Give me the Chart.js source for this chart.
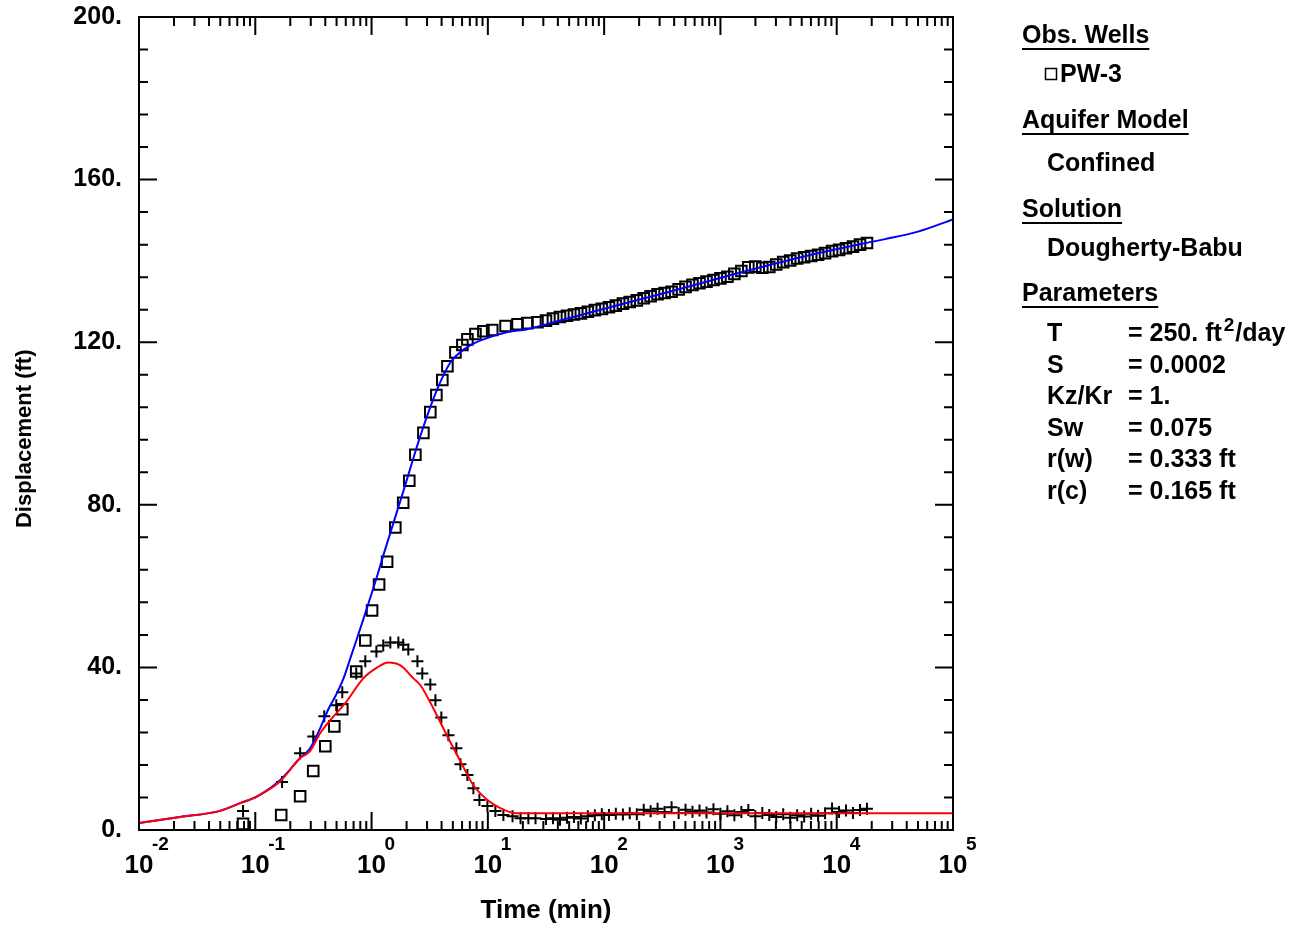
<!DOCTYPE html>
<html>
<head>
<meta charset="utf-8">
<title>PW-3 Dougherty-Babu</title>
<script src="https://cdn.jsdelivr.net/npm/chart.js@4.4.0/dist/chart.umd.min.js"></script>
<style>
  html, body { margin: 0; padding: 0; background: #fff; }
</style>
</head>
<body>
<canvas id="chart" width="1293" height="926"></canvas>
<script>
// observed displacement at PW-3 (squares)
const obsTime = [0.0785, 0.167, 0.243, 0.315, 0.400, 0.478, 0.560, 0.738, 0.883, 1.01,
  1.16, 1.36, 1.60, 1.87, 2.11, 2.38, 2.79, 3.20, 3.61, 4.06,
  4.49, 5.26, 6.04, 6.67, 7.82, 9.16, 10.9, 14.2, 18.0, 21.9,
  26.7, 31.6, 36.3, 41.7, 47.9, 55.0, 63.1, 72.4, 83.2, 95.5,
  110, 126, 145, 166, 191, 219, 251, 288, 331, 380,
  437, 501, 575, 661, 759, 871, 1000, 1148, 1318, 1514,
  1738, 1995, 2291, 2630, 3020, 3467, 3981, 4571, 5248, 6026,
  6918, 7943, 9120, 10470, 12020, 13800, 15850, 18200];
const obsDisp = [1.5, 3.7, 8.3, 14.5, 20.6, 25.5, 29.7, 39.0, 46.6, 54.0,
  60.4, 66.0, 74.4, 80.5, 85.9, 92.3, 97.7, 102.8, 107.0, 110.7,
  114.1, 117.5, 119.3, 120.7, 122.0, 122.7, 123.0, 124.0, 124.4, 124.7,
  124.9, 125.3, 125.8, 126.2, 126.5, 126.8, 127.1, 127.5, 127.9, 128.2,
  128.6, 129.0, 129.5, 129.9, 130.3, 130.8, 131.3, 131.8, 132.1, 132.4,
  133.0, 133.6, 134.1, 134.5, 134.9, 135.3, 135.7, 136.1, 136.8, 137.5,
  138.4, 138.6, 138.3, 138.5, 139.1, 139.7, 140.1, 140.6, 140.9, 141.2,
  141.5, 141.9, 142.4, 142.7, 143.1, 143.5, 144.0, 144.4];

// observed derivative (plus signs)
const derTime = [0.0785, 0.170, 0.243, 0.315, 0.392, 0.497, 0.560, 0.738, 0.883, 1.10,
  1.26, 1.45, 1.70, 1.87, 2.07, 2.48, 2.73, 3.20, 3.54, 3.98,
  4.58, 5.36, 5.81, 6.67, 7.51, 8.46, 9.91, 11.6, 13.6, 16.3,
  19.1, 22.3, 25.7, 31.6, 36.3, 41.7, 47.9, 55.0, 63.1, 72.4,
  83.2, 95.5, 110, 126, 145, 166, 191, 219, 251, 288,
  331, 380, 437, 501, 575, 661, 759, 871, 1000, 1148,
  1318, 1514, 1738, 1995, 2291, 2630, 3020, 3467, 3981, 4571,
  5248, 6026, 6918, 7943, 9120, 10470, 12020, 13800, 15850, 18200];
const derValue = [4.7, 11.8, 18.9, 23.0, 28.0, 30.7, 33.9, 38.5, 41.5, 43.9,
  45.4, 46.1, 46.1, 45.6, 44.4, 41.5, 38.5, 35.8, 31.9, 27.7,
  23.3, 20.1, 16.2, 13.5, 10.3, 7.4, 5.9, 4.7, 3.7, 3.4,
  2.9, 2.9, 2.9, 2.7, 2.9, 2.5, 3.0, 3.2, 2.8, 3.4,
  3.6, 3.9, 3.7, 4.0, 3.8, 4.1, 3.9, 5.0, 4.6, 5.2,
  4.4, 5.6, 4.2, 5.0, 4.5, 4.8, 4.3, 5.1, 4.0, 4.6,
  3.6, 4.4, 4.9, 3.4, 4.2, 3.7, 3.2, 3.9, 3.0, 3.6,
  3.3, 4.0, 3.5, 4.1, 5.3, 4.4, 4.8, 4.2, 4.9, 5.2];

// Dougherty-Babu type curve (blue)
const modelTime = [0.01, 0.0225, 0.0498, 0.0741, 0.104, 0.164, 0.243, 0.296, 0.361, 0.428,
  0.488, 0.574, 0.656, 0.749, 0.853, 1.12, 1.26, 1.87, 2.63, 3.68,
  4.76, 6.67, 9.16, 14.8, 21.9, 36.7, 93.3, 352, 1300, 4910,
  18540, 25450, 50000, 100000];
const modelDisp = [1.7, 3.2, 4.7, 6.6, 8.3, 12.3, 17.7, 20.1, 25.0, 29.9,
  32.9, 37.3, 42.2, 47.1, 52.0, 62.6, 67.5, 83.2, 97.0, 108.5,
  115.0, 118.8, 120.7, 122.5, 123.2, 124.9, 128.0, 132.3, 136.7, 140.9,
  144.5, 145.3, 147.2, 150.2];

// derivative of the type curve (red)
const modelDerTime = [0.01, 0.0225, 0.0498, 0.0741, 0.104, 0.164, 0.243, 0.296, 0.361, 0.441,
  0.594, 0.849, 1.12, 1.39, 1.77, 2.29, 2.63, 3.40, 4.49, 5.81,
  7.51, 9.91, 12.8, 16.6, 25, 100, 1000, 10000, 100000];
const modelDer = [1.7, 3.2, 4.7, 6.6, 8.3, 12.0, 17.7, 19.4, 23.8, 27.0,
  31.2, 37.3, 40.0, 41.2, 40.5, 37.3, 35.6, 29.9, 23.0, 16.9,
  11.0, 7.4, 5.4, 4.2, 4.1, 4.1, 4.1, 4.1, 4.1];

const xExponents = [-2, -1, 0, 1, 2, 3, 4, 5];

const panelHeadings = ['Obs. Wells', 'Aquifer Model', 'Solution', 'Parameters'];
const wellName = 'PW-3';
const aquiferModel = 'Confined';
const solutionName = 'Dougherty-Babu';
const paramNames = ['T', 'S', 'Kz/Kr', 'Sw', 'r(w)', 'r(c)'];
const paramValues = ['= 250. ft', '= 0.0002', '= 1.', '= 0.075', '= 0.333 ft', '= 0.165 ft'];

const FONT = '"Liberation Sans", Arial, sans-serif';
const toXY = (xs, ys) => xs.map((x, i) => ({ x: x, y: ys[i] }));

const axisFrame = {
  id: 'axisFrame',
  afterDraw(chart) {
    const { ctx, chartArea: a } = chart;
    const x = chart.scales.x;
    const y = chart.scales.y;
    ctx.save();
    ctx.strokeStyle = '#000';
    ctx.lineWidth = 2;
    ctx.strokeRect(a.left, a.top, a.right - a.left, a.bottom - a.top);

    // inward ticks on all four sides
    ctx.beginPath();
    xExponents.forEach((e) => {
      const dec = Math.pow(10, e);
      const px = x.getPixelForValue(dec);
      ctx.moveTo(px, a.bottom); ctx.lineTo(px, a.bottom - 18);
      ctx.moveTo(px, a.top); ctx.lineTo(px, a.top + 18);
      if (e < 5) {
        for (let m = 2; m <= 9; m++) {
          const mx = x.getPixelForValue(m * dec);
          ctx.moveTo(mx, a.bottom); ctx.lineTo(mx, a.bottom - 9);
          ctx.moveTo(mx, a.top); ctx.lineTo(mx, a.top + 9);
        }
      }
    });
    for (let v = 0; v <= 200; v += 8) {
      const py = y.getPixelForValue(v);
      const len = v % 40 === 0 ? 18 : 9;
      ctx.moveTo(a.left, py); ctx.lineTo(a.left + len, py);
      ctx.moveTo(a.right, py); ctx.lineTo(a.right - len, py);
    }
    ctx.stroke();

    // x tick labels: 10 with superscript exponent
    ctx.fillStyle = '#000';
    ctx.textBaseline = 'alphabetic';
    xExponents.forEach((e) => {
      const px = x.getPixelForValue(Math.pow(10, e));
      ctx.font = 'bold 26px ' + FONT;
      ctx.textAlign = 'center';
      ctx.fillText('10', px, a.bottom + 43);
      ctx.font = 'bold 19px ' + FONT;
      ctx.textAlign = 'left';
      ctx.fillText(String(e), px + 13, a.bottom + 20);
    });

    // side panel
    const left = 1022, indent = 1047, valX = 1128;
    const heading = (text, base) => {
      ctx.font = 'bold 25px ' + FONT;
      ctx.textAlign = 'left';
      ctx.fillText(text, left, base);
      const w = ctx.measureText(text).width;
      ctx.fillRect(left, base + 5, w, 2);
    };
    const line = (text, px, base) => {
      ctx.font = 'bold 25px ' + FONT;
      ctx.textAlign = 'left';
      ctx.fillText(text, px, base);
      return ctx.measureText(text).width;
    };
    heading(panelHeadings[0], 43);
    ctx.lineWidth = 1.5;
    ctx.strokeRect(1045.5, 68.5, 11, 11);
    line(wellName, 1060, 82);
    heading(panelHeadings[1], 128);
    line(aquiferModel, indent, 171);
    heading(panelHeadings[2], 217);
    line(solutionName, indent, 256);
    heading(panelHeadings[3], 301);
    paramNames.forEach((name, i) => {
      const base = 341 + i * 31.5;
      line(name, indent, base);
      const w = line(paramValues[i], valX, base);
      if (i === 0) {
        ctx.font = 'bold 19px ' + FONT;
        ctx.fillText('2', valX + w + 2, base - 10);
        const w2 = ctx.measureText('2').width;
        line('/day', valX + w + 3 + w2, base);
      }
    });
    ctx.restore();
  }
};

new Chart(document.getElementById('chart'), {
  type: 'scatter',
  data: {
    datasets: [{
      label: 'derivative model',
      data: toXY(modelDerTime, modelDer),
      showLine: true,
      borderColor: '#ff0000',
      borderWidth: 2,
      pointRadius: 0,
      cubicInterpolationMode: 'monotone',
      order: 0
    }, {
      label: 'Dougherty-Babu',
      data: toXY(modelTime, modelDisp),
      showLine: true,
      borderColor: '#0000ff',
      borderWidth: 2,
      pointRadius: 0,
      cubicInterpolationMode: 'monotone',
      order: 1
    }, {
      label: 'derivative',
      data: toXY(derTime, derValue),
      pointStyle: 'cross',
      pointRadius: 6,
      borderColor: '#000',
      borderWidth: 2,
      order: 2
    }, {
      label: 'PW-3',
      data: toXY(obsTime, obsDisp),
      pointStyle: 'rect',
      pointRadius: 7.5,
      borderColor: '#000',
      backgroundColor: 'rgba(0,0,0,0)',
      borderWidth: 2,
      order: 3
    }]
  },
  options: {
    responsive: false,
    animation: false,
    layout: { padding: { top: 17, right: 340, left: 0, bottom: 0 } },
    plugins: {
      legend: { display: false },
      tooltip: { enabled: false }
    },
    scales: {
      x: {
        type: 'logarithmic',
        min: 0.01,
        max: 100000,
        grid: { display: false },
        border: { display: false },
        ticks: { display: false },
        title: {
          display: true,
          text: 'Time (min)',
          color: '#000',
          font: { family: FONT, size: 26, weight: 'bold' },
          padding: { top: 0, bottom: 0 }
        },
        afterFit: (scale) => { scale.height = 96; }
      },
      y: {
        min: 0,
        max: 200,
        grid: { display: false, drawTicks: false },
        border: { display: false },
        ticks: {
          stepSize: 40,
          color: '#000',
          padding: 17,
          font: { family: FONT, size: 25, weight: 'bold' },
          callback: (v) => v + '.'
        },
        title: {
          display: true,
          // trailing spaces nudge the rotated title down a little, as in the original
          text: 'Displacement (ft)     ',
          color: '#000',
          font: { family: FONT, size: 22, weight: 'bold' },
          padding: { top: 12, bottom: 0 }
        },
        afterFit: (scale) => {
          scale.width = 139;
          scale.paddingTop = 0;
          scale.paddingBottom = 0;
        }
      }
    }
  },
  plugins: [axisFrame]
});
</script>
</body>
</html>
